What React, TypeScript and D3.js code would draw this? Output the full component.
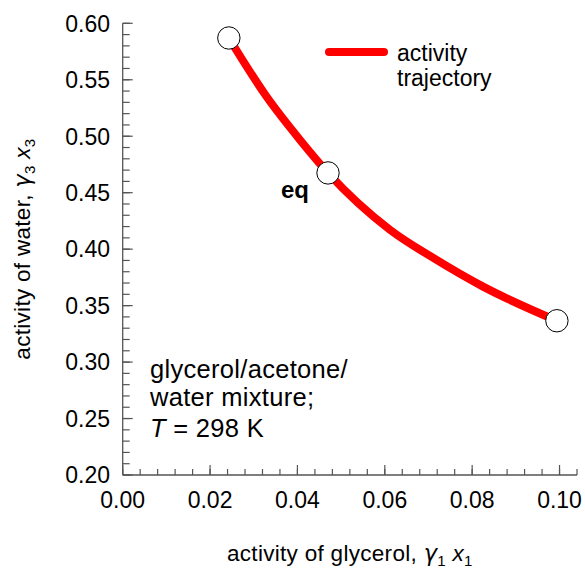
import React from 'react';
import * as d3 from 'd3';

// trajectory (activity of glycerol, activity of water)
const trajX = [0.0243, 0.0330, 0.0406, 0.0470, 0.0612, 0.0711, 0.0825, 0.0994];
const trajY = [0.587, 0.5347, 0.4967, 0.4675, 0.4171, 0.3922, 0.3668, 0.3366];

// open circles: start, equilibrium, end
const markX = [0.0243, 0.0470, 0.0994];
const markY = [0.587, 0.4675, 0.3366];

const xTickLabels = ['0.00', '0.02', '0.04', '0.06', '0.08', '0.10'];
const yTickLabels = ['0.20', '0.25', '0.30', '0.35', '0.40', '0.45', '0.50', '0.55', '0.60'];

const W = 585, H = 573;
const font = 'Liberation Sans, Arial, Helvetica, sans-serif';

const App = () => {
  const x = d3.scaleLinear().domain([0, 0.104]).range([122.7, 577]);
  const y = d3.scaleLinear().domain([0.2, 0.6]).range([475, 23.3]);

  const xMinor = d3.range(0, 27).map(i => i * 0.004);
  const yMinor = d3.range(0, 41).map(i => 0.2 + i * 0.01);
  const xMajor = xTickLabels.map(Number);
  const yMajor = yTickLabels.map(Number);

  const pts = trajX.map((v, i) => [x(v), y(trajY[i])] as [number, number]);
  const line = d3.line().curve(d3.curveMonotoneX);

  const axisColor = '#555';
  const greek = 'DejaVu Sans, sans-serif';

  return (
    <svg width={W} height={H} style={{ position: 'absolute', left: 0, top: 0, background: '#fff' }}
      fontFamily={font}>
      {/* axes */}
      <line x1={x(0)} x2={x(0.104)} y1={y(0.2)} y2={y(0.2)} stroke={axisColor} strokeWidth={1.3} />
      <line x1={x(0)} x2={x(0)} y1={y(0.2)} y2={y(0.6)} stroke={axisColor} strokeWidth={1.3} />
      {xMinor.map((v, i) => (
        <line key={'xm' + i} x1={x(v)} x2={x(v)} y1={y(0.2)} y2={y(0.2) - 6} stroke={axisColor} strokeWidth={1.2} />
      ))}
      {xMajor.map((v, i) => (
        <line key={'xM' + i} x1={x(v)} x2={x(v)} y1={y(0.2)} y2={y(0.2) - 10} stroke={axisColor} strokeWidth={1.2} />
      ))}
      {yMinor.map((v, i) => (
        <line key={'ym' + i} x1={x(0)} x2={x(0) + 7} y1={y(v)} y2={y(v)} stroke={axisColor} strokeWidth={1.2} />
      ))}
      {yMajor.map((v, i) => (
        <line key={'yM' + i} x1={x(0)} x2={x(0) + 10} y1={y(v)} y2={y(v)} stroke={axisColor} strokeWidth={1.2} />
      ))}
      {xTickLabels.map((t, i) => (
        <text key={'xl' + i} x={x(xMajor[i])} y={508} fontSize={23} textAnchor="middle" fill="#000">{t}</text>
      ))}
      {yTickLabels.map((t, i) => (
        <text key={'yl' + i} x={110} y={y(yMajor[i]) + 8.3} fontSize={23} textAnchor="end" fill="#000">{t}</text>
      ))}

      {/* axis titles */}
      <text x={(x(0) + x(0.104)) / 2} y={561} fontSize={22.5} textAnchor="middle" letterSpacing={0.3}>
        activity of glycerol, <tspan fontStyle="italic" fontFamily={greek}>γ</tspan>
        <tspan fontSize={15} dy={5}>1</tspan>
        <tspan dy={-5}> </tspan><tspan fontStyle="italic">x</tspan>
        <tspan fontSize={15} dy={5}>1</tspan>
      </text>
      <text transform={`translate(30,${(y(0.2) + y(0.6)) / 2}) rotate(-90)`} fontSize={22.5} textAnchor="middle" letterSpacing={0.3}>
        activity of water, <tspan fontStyle="italic" fontFamily={greek}>γ</tspan>
        <tspan fontSize={15} dy={5}>3</tspan>
        <tspan dy={-5}> </tspan><tspan fontStyle="italic">x</tspan>
        <tspan fontSize={15} dy={5}>3</tspan>
      </text>

      {/* trajectory */}
      <path d={line(pts) || ''} fill="none" stroke="#ff0000" strokeWidth={8} />
      {markX.map((v, i) => (
        <circle key={'c' + i} cx={x(v)} cy={y(markY[i])} r={11.2} fill="#fff" stroke="#000" strokeWidth={1} />
      ))}
      <text x={281} y={198} fontSize={24} fontWeight="bold">eq</text>

      {/* legend */}
      <line x1={329} x2={384} y1={52} y2={52} stroke="#ff0000" strokeWidth={8} strokeLinecap="round" />
      <text x={397} y={61} fontSize={23}>activity</text>
      <text x={397} y={86} fontSize={23}>trajectory</text>

      {/* annotation */}
      <text fontSize={25.5} letterSpacing={0.3}>
        <tspan x={150} y={378}>glycerol/acetone/</tspan>
        <tspan x={150} y={406}>water mixture;</tspan>
        <tspan x={150} y={437}><tspan fontStyle="italic">T</tspan> = 298 K</tspan>
      </text>
    </svg>
  );
};

export default App;
